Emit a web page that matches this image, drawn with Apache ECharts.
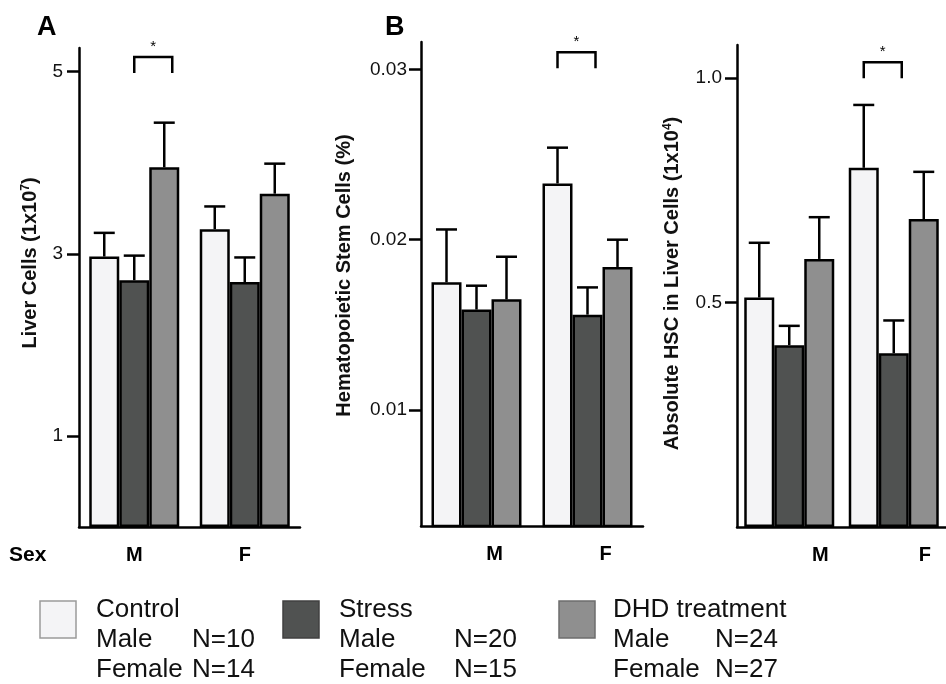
<!DOCTYPE html>
<html>
<head>
<meta charset="utf-8">
<script src="https://cdn.jsdelivr.net/npm/echarts@6/dist/echarts.min.js"></script>
<style>
  html, body { margin: 0; padding: 0; background: #fff; }
  #chart { width: 946px; height: 684px; }
</style>
</head>
<body>
<div id="chart"></div>
<script>
// ---- data ----
const sexes = ['M', 'F'];
const groupNames = ['Control', 'Stress', 'DHD treatment'];
const nMale = [10, 20, 24];
const nFemale = [14, 15, 27];

// A: liver cells (x10^7), mean and upper error per sex [M, F]
const liverControl = [2.97, 3.27];
const liverStress = [2.71, 2.69];
const liverDHD = [3.95, 3.66];
const liverControlErr = [0.26, 0.25];
const liverStressErr = [0.27, 0.27];
const liverDHDErr = [0.49, 0.33];
const liverTicks = [1, 3, 5];
const liverTickText = ['1', '3', '5'];
const liverSig = [0, 1, 2, 5.16];   // [sex, first group, second group, bracket height]

// B: hematopoietic stem cells (%)
const hscPctControl = [0.0175, 0.0233];
const hscPctStress = [0.0159, 0.0156];
const hscPctDHD = [0.0165, 0.0184];
const hscPctControlErr = [0.0031, 0.0021];
const hscPctStressErr = [0.0014, 0.0016];
const hscPctDHDErr = [0.0025, 0.0016];
const hscPctTicks = [0.01, 0.02, 0.03];
const hscPctTickText = ['0.01', '0.02', '0.03'];
const hscPctSig = [1, 0, 1, 0.0310];

// C: absolute HSC in liver cells (x10^4)
const hscAbsControl = [0.511, 0.800];
const hscAbsStress = [0.405, 0.387];
const hscAbsDHD = [0.597, 0.686];
const hscAbsControlErr = [0.122, 0.140];
const hscAbsStressErr = [0.043, 0.073];
const hscAbsDHDErr = [0.093, 0.105];
const hscAbsTicks = [0.5, 1.0];
const hscAbsTickText = ['0.5', '1.0'];
const hscAbsSig = [1, 0, 1, 1.035];

// ---- styling / layout ----
const FONT = '"Liberation Sans", Arial, Helvetica, sans-serif';
const fills = ['#f4f4f6', '#505251', '#8f8f8f'];
const swatchStroke = ['#9a9a9a', '#404040', '#6e6e6e'];
const BAR_W = 30;

const panels = [
  {
    means: [liverControl, liverStress, liverDHD],
    errs: [liverControlErr, liverStressErr, liverDHDErr],
    ticks: liverTicks, tickText: liverTickText, sig: liverSig,
    name: 'Liver Cells (1x10{sup|7})',
    grid: { left: 79, top: 48, width: 221, height: 479 },
    min: 0, max: 5.26, nameGap: 39, namePad: 49, labelMargin: 16, catPad: 0
  },
  {
    means: [hscPctControl, hscPctStress, hscPctDHD],
    errs: [hscPctControlErr, hscPctStressErr, hscPctDHDErr],
    ticks: hscPctTicks, tickText: hscPctTickText, sig: hscPctSig,
    name: 'Hematopoietic Stem Cells (%)',
    grid: { left: 421, top: 42, width: 222, height: 484 },
    min: 0.0032, max: 0.0316, nameGap: 67, namePad: 17, labelMargin: 14, catPad: 36
  },
  {
    means: [hscAbsControl, hscAbsStress, hscAbsDHD],
    errs: [hscAbsControlErr, hscAbsStressErr, hscAbsDHDErr],
    ticks: hscAbsTicks, tickText: hscAbsTickText, sig: hscAbsSig,
    name: 'Absolute HSC in Liver Cells (1x10{sup|4})',
    grid: { left: 737, top: 45, width: 224, height: 482 },
    min: 0, max: 1.0735, nameGap: 55, namePad: 5, labelMargin: 15, catPad: 62
  }
];

const grids = [], xAxes = [], yAxes = [], series = [];

panels.forEach((p, pi) => {
  grids.push(Object.assign({ containLabel: false }, p.grid));

  xAxes.push({
    gridIndex: pi, type: 'category', data: sexes,
    axisLine: { onZero: false, lineStyle: { color: '#000', width: 2.5 } },
    axisTick: { show: false },
    axisLabel: {
      fontSize: 20, fontWeight: 'bold', color: '#000', fontFamily: FONT,
      margin: 18, padding: [0, 0, 0, p.catPad]
    },
    splitLine: { show: false }
  });

  yAxes.push({
    gridIndex: pi, type: 'value', min: p.min, max: p.max,
    axisLine: { show: true, lineStyle: { color: '#000', width: 2.5 } },
    axisTick: { show: true, length: 12, customValues: p.ticks, lineStyle: { color: '#000', width: 2.5 } },
    axisLabel: {
      customValues: p.ticks, margin: p.labelMargin,
      fontSize: 19, color: '#111', fontFamily: FONT,
      formatter: v => {
        const i = p.ticks.findIndex(t => Math.abs(t - v) < 1e-9);
        return i >= 0 ? p.tickText[i] : '';
      }
    },
    splitLine: { show: false },
    name: p.name, nameLocation: 'middle', nameRotate: 90, nameGap: p.nameGap,
    nameMoveOverlap: false,
    nameTextStyle: {
      fontSize: 20, fontWeight: 'bold', color: '#111', fontFamily: FONT,
      padding: [0, 0, 0, p.namePad],
      rich: { sup: { fontSize: 12, fontWeight: 'bold', color: '#111', fontFamily: FONT, verticalAlign: 'top' } }
    }
  });

  // bars
  p.means.forEach((vals, g) => {
    series.push({
      type: 'bar', name: groupNames[g], xAxisIndex: pi, yAxisIndex: pi,
      data: vals, barWidth: BAR_W, barGap: '0%', clip: true,
      itemStyle: { color: fills[g], borderColor: '#000', borderWidth: 2.5 },
      silent: true, z: 2
    });
  });

  // upper error whiskers
  const errData = [];
  sexes.forEach((s, si) => {
    p.means.forEach((vals, g) => {
      errData.push([si, vals[si], vals[si] + p.errs[g][si], g]);
    });
  });
  series.push({
    type: 'custom', xAxisIndex: pi, yAxisIndex: pi, data: errData, z: 3, silent: true,
    encode: { x: 0, y: [1, 2] },
    renderItem: (params, api) => {
      const c = api.value(0), m = api.value(1), top = api.value(2), g = api.value(3);
      const b = api.coord([c, m]);
      const t = api.coord([c, top]);
      const x = b[0] + (g - 1) * BAR_W;
      const st = { stroke: '#000', lineWidth: 2.5 };
      return {
        type: 'group', children: [
          { type: 'line', shape: { x1: x, y1: b[1], x2: x, y2: t[1] }, style: st },
          { type: 'line', shape: { x1: x - 10.5, y1: t[1], x2: x + 10.5, y2: t[1] }, style: st }
        ]
      };
    }
  });

  // significance bracket
  series.push({
    type: 'custom', xAxisIndex: pi, yAxisIndex: pi, data: [p.sig], z: 3, silent: true,
    encode: { x: 0, y: 3 },
    renderItem: (params, api) => {
      const c = api.value(0), g1 = api.value(1), g2 = api.value(2), lvl = api.value(3);
      const pt = api.coord([c, lvl]);
      const x1 = pt[0] + (g1 - 1) * BAR_W;
      const x2 = pt[0] + (g2 - 1) * BAR_W + 8;
      const y = pt[1];
      return {
        type: 'group', children: [
          { type: 'polyline', shape: { points: [[x1, y + 16], [x1, y], [x2, y], [x2, y + 16]] },
            style: { stroke: '#000', lineWidth: 2.5, fill: null } },
          { type: 'text', x: (x1 + x2) / 2, y: y - 10,
            style: { text: '*', fontSize: 15, fontFamily: FONT, fill: '#000', align: 'center', verticalAlign: 'middle' } }
        ]
      };
    }
  });
});

// legend block
const legendX = [40, 283, 559];
const nOffset = [96, 115, 102];
const graphics = [
  { type: 'text', x: 9, y: 555, style: { text: 'Sex', fontSize: 21, fontWeight: 'bold', fontFamily: FONT, fill: '#000', verticalAlign: 'middle' } }
];
groupNames.forEach((name, g) => {
  const x0 = legendX[g];
  const tx = x0 + 56 - (g === 2 ? 2 : 0);
  graphics.push({ type: 'rect', shape: { x: x0, y: 601, width: 36, height: 37 },
    style: { fill: fills[g], stroke: swatchStroke[g], lineWidth: 1.5 } });
  const txt = (text, x, y) => ({ type: 'text', x, y,
    style: { text, fontSize: 26, fontFamily: FONT, fill: '#111', verticalAlign: 'middle' } });
  graphics.push(txt(name, tx, 610));
  graphics.push(txt('Male', tx, 640));
  graphics.push(txt('N=' + nMale[g], tx + nOffset[g], 640));
  graphics.push(txt('Female', tx, 670));
  graphics.push(txt('N=' + nFemale[g], tx + nOffset[g], 670));
});

const chart = echarts.init(document.getElementById('chart'), null, { renderer: 'canvas' });
chart.setOption({
  backgroundColor: '#fff',
  animation: false,
  title: [
    { text: 'A', left: 37, top: 14, padding: 0, textStyle: { fontSize: 27, fontWeight: 'bold', color: '#000', fontFamily: FONT } },
    { text: 'B', left: 385, top: 14, padding: 0, textStyle: { fontSize: 27, fontWeight: 'bold', color: '#000', fontFamily: FONT } }
  ],
  grid: grids,
  xAxis: xAxes,
  yAxis: yAxes,
  series: series,
  graphic: graphics
});
</script>
</body>
</html>
